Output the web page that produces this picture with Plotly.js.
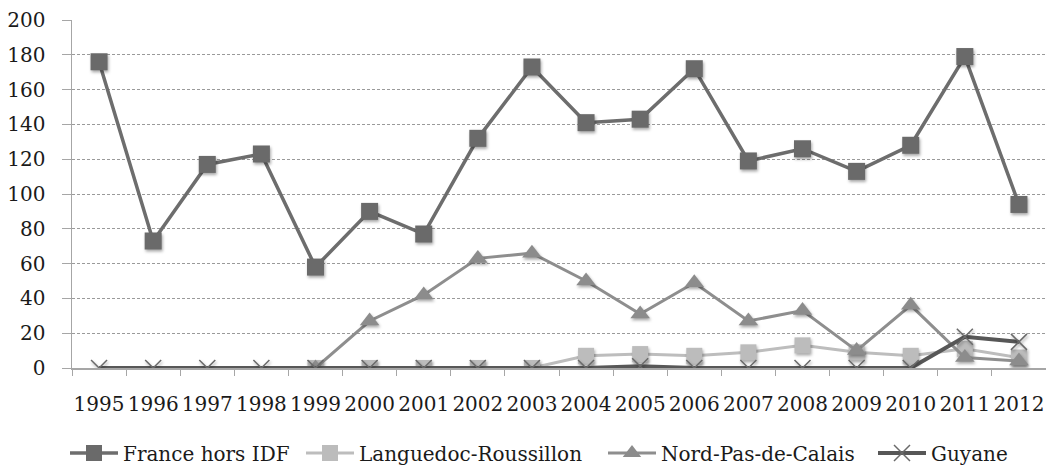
<!DOCTYPE html>
<html>
<head>
<meta charset="utf-8">
<script src="https://cdn.plot.ly/plotly-3.0.1.min.js"></script>
<style>
  html, body { margin: 0; padding: 0; background: #fff; }
  #chart { width: 1046px; height: 468px; }
  /* soft shadow under the markers */
  #chart .scatterlayer .points path { filter: drop-shadow(1px 2px 1.5px rgba(0,0,0,0.35)); }
</style>
</head>
<body>
<div id="chart"></div>
<script>
// Years on the category axis
const years = ['1995','1996','1997','1998','1999','2000','2001','2002','2003',
               '2004','2005','2006','2007','2008','2009','2010','2011','2012'];

// Yearly counts per region
const franceHorsIDF = [176, 73, 117, 123, 58, 90, 77, 132, 173,
                       141, 143, 172, 119, 126, 113, 128, 179, 94];
const languedocRoussillon = [null, null, null, null, 0, 0, 0, 0, 0,
                             7, 8, 7, 9, 13, 9, 7, 11, 6];
const nordPasDeCalais = [null, null, null, null, 0, 27, 42, 63, 66,
                         50, 31, 49, 27, 33, 10, 36, 6, 4];
const guyane = [0, 0, 0, 0, 0, 0, 0, 0, 0,
                0, 1, 0, 0, 0, 0, 0, 18, 15];

const yTicks = [0, 20, 40, 60, 80, 100, 120, 140, 160, 180, 200];

const fontFamily = '"DejaVu Serif", "Liberation Serif", serif';
const textColor = '#1a1a1a';

function series(name, legendId, values, lineColor, lineWidth, symbol, markerColor, size, markerLine) {
  return {
    type: 'scatter',
    mode: 'lines+markers',
    name: name,
    legend: legendId,
    x: years,
    y: values,
    line: { color: lineColor, width: lineWidth },
    marker: Object.assign({ symbol: symbol, color: markerColor, size: size }, markerLine || {}),
    hoverinfo: 'skip',
    connectgaps: false
  };
}

const traces = [
  series('France hors IDF', 'legend', franceHorsIDF, '#6d6d6d', 3.5, 'square', '#6a6a6a', 17),
  series('Languedoc-Roussillon', 'legend2', languedocRoussillon, '#bdbdbd', 3, 'square', '#bcbcbc', 16),
  series('Nord-Pas-de-Calais', 'legend3', nordPasDeCalais, '#8e8e8e', 3, 'triangle-up', '#8c8c8c', 17),
  series('Guyane', 'legend4', guyane, '#575757', 4, 'x-thin-open', '#6a6a6a', 16,
         { line: { color: '#5e5e5e', width: 1.5 } })
];

// One legend box per series, laid out along the bottom edge
function legendAt(px) {
  return {
    orientation: 'h',
    xref: 'container', yref: 'container',
    x: px / 1046, xanchor: 'left',
    y: 15 / 468, yanchor: 'middle',
    font: { family: fontFamily, size: 20, color: textColor },
    itemwidth: 48,
    bgcolor: 'rgba(0,0,0,0)',
    borderwidth: 0
  };
}

const layout = {
  width: 1046,
  height: 468,
  margin: { l: 72, r: 0, t: 19.5, b: 99.5 },
  paper_bgcolor: '#ffffff',
  plot_bgcolor: '#ffffff',
  font: { family: fontFamily, size: 20, color: textColor },
  showlegend: true,
  legend: legendAt(65),
  legend2: legendAt(301),
  legend3: legendAt(603),
  legend4: legendAt(873),
  xaxis: {
    type: 'category',
    range: [-0.5, 17.5],
    tickson: 'boundaries',
    ticks: 'outside',
    ticklen: 6,
    tickcolor: '#a6a6a6',
    tickwidth: 1,
    tickangle: 0,
    ticklabelstandoff: 17,
    showline: true,
    linecolor: '#a6a6a6',
    linewidth: 1.5,
    showgrid: false,
    zeroline: false,
    fixedrange: true
  },
  yaxis: {
    range: [0, 200],
    tickvals: yTicks,
    ticks: 'outside',
    ticklen: 9,
    tickcolor: '#a6a6a6',
    tickwidth: 1,
    ticklabelstandoff: 12,
    showline: true,
    linecolor: '#a6a6a6',
    linewidth: 1.5,
    showgrid: true,
    gridcolor: '#9a9a9a',
    gridwidth: 1,
    griddash: '3px,2px',
    zeroline: false,
    fixedrange: true
  }
};

Plotly.newPlot('chart', traces, layout, { staticPlot: true, displayModeBar: false });
</script>
</body>
</html>
